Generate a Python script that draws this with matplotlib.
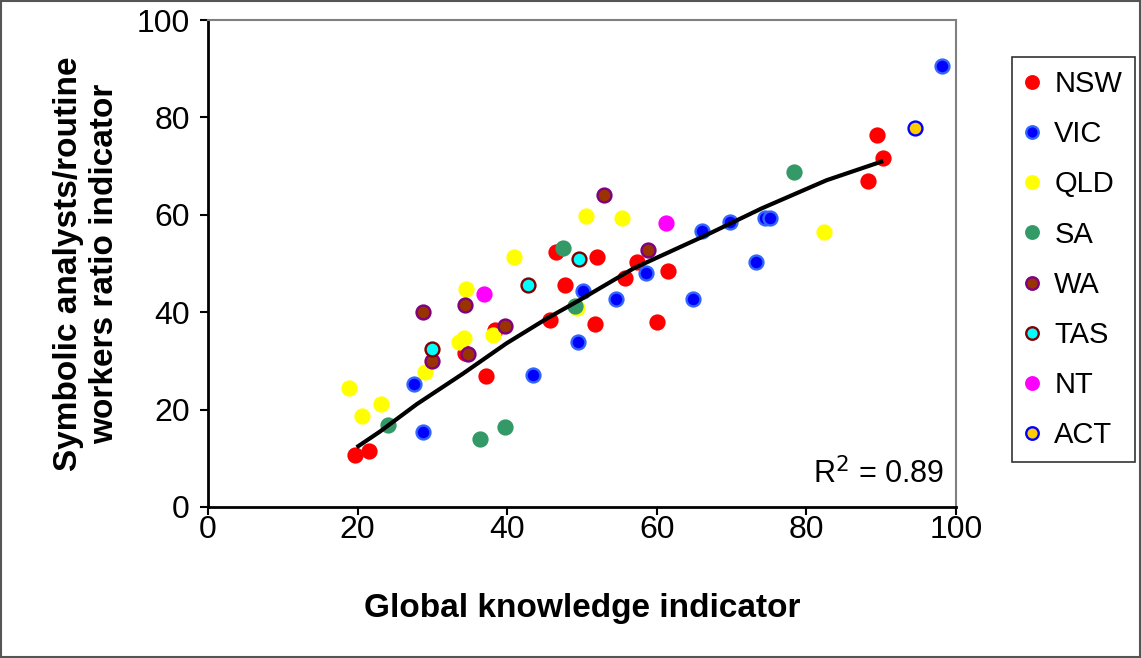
import numpy as np
import matplotlib
matplotlib.use("Agg")
import matplotlib.pyplot as plt
from matplotlib.patches import Rectangle

plt.rcParams['font.family'] = ['Liberation Sans', 'DejaVu Sans']

# state series: global knowledge (x) vs symbolic analysts/routine ratio (y)
nsw_x = [19.7, 21.5, 34.4, 37.2, 38.4, 45.7, 46.5, 47.7, 51.7, 52.0, 55.7, 57.3, 60.0, 61.5, 88.3, 89.5, 90.2]
nsw_y = [10.7, 11.6, 31.6, 26.8, 36.3, 38.3, 52.3, 45.6, 37.6, 51.3, 47.0, 50.4, 38.0, 48.5, 66.9, 76.3, 71.7]
vic_x = [27.5, 28.7, 43.4, 49.5, 50.2, 54.5, 58.5, 64.9, 66.0, 69.8, 73.3, 74.5, 75.1, 98.1]
vic_y = [25.3, 15.5, 27.2, 33.9, 44.3, 42.8, 48.0, 42.8, 56.6, 58.5, 50.4, 59.3, 59.3, 90.5]
qld_x = [18.9, 20.6, 23.1, 29.0, 33.6, 34.2, 34.5, 38.1, 40.9, 49.3, 50.5, 55.4, 82.4]
qld_y = [24.4, 18.7, 21.1, 27.7, 33.8, 34.8, 44.7, 35.3, 51.3, 40.8, 59.8, 59.3, 56.5]
sa_x = [24.0, 36.4, 39.7, 47.4, 49.0, 78.4]
sa_y = [16.9, 14.0, 16.4, 53.2, 41.3, 68.8]
wa_x = [28.7, 29.9, 34.4, 34.8, 39.7, 52.9, 58.8]
wa_y = [40.0, 30.0, 41.4, 31.4, 37.1, 64.1, 52.8]
tas_x = [29.9, 42.8, 49.6]
tas_y = [32.4, 45.6, 50.9]
nt_x = [36.9, 61.2]
nt_y = [43.8, 58.4]
act_x = [94.5]
act_y = [77.8]

# trend line
trend_x = [20.1, 23.0, 27.9, 34.1, 39.9, 45.3, 49.7, 56.9, 66.7, 74.0, 82.7, 90.0]
trend_y = [12.5, 15.5, 21.1, 27.4, 33.6, 38.7, 42.5, 49.0, 55.9, 61.3, 67.1, 70.9]

series = [
    ('NSW', nsw_x, nsw_y, '#FF0000', '#FF0000'),
    ('VIC', vic_x, vic_y, '#0000FF', '#3366FF'),
    ('QLD', qld_x, qld_y, '#FFFF00', '#FFFF00'),
    ('SA', sa_x, sa_y, '#339966', '#339966'),
    ('WA', wa_x, wa_y, '#993300', '#800080'),
    ('TAS', tas_x, tas_y, '#00FFFF', '#800000'),
    ('NT', nt_x, nt_y, '#FF00FF', '#FF00FF'),
    ('ACT', act_x, act_y, '#FFCC00', '#0000FF'),
]

fig = plt.figure(figsize=(11.41, 6.58), dpi=100)
ax = fig.add_axes([208/1141, 1 - 507/658, (956-208)/1141, (507-20)/658])

for name, xs, ys, fc, ec in series:
    ax.plot(xs, ys, 'o', ms=10, mfc=fc, mec=ec, mew=1.7, label=name, zorder=3)

ax.plot(trend_x, trend_y, color='black', lw=3, zorder=4)

ax.set_xlim(0, 100)
ax.set_ylim(0, 100)
ax.set_xticks(range(0, 101, 20))
ax.set_yticks(range(0, 101, 20))
ax.tick_params(direction='out', length=6, width=1.5, labelsize=23)
ax.tick_params(axis='x', pad=0)
ax.tick_params(axis='y', pad=7)
for s in ['left', 'bottom']:
    ax.spines[s].set_linewidth(2)
    ax.spines[s].set_color('black')
for s in ['top', 'right']:
    ax.spines[s].set_linewidth(1.5)
    ax.spines[s].set_color('#808080')

ax.set_xlabel('Global knowledge indicator', fontsize=24, fontweight='bold', labelpad=34)
ax.set_ylabel('Symbolic analysts/routine\nworkers ratio indicator', fontsize=24,
              fontweight='bold', labelpad=12, linespacing=1.2)

ax.text(0.985, 0.035, r'R$^2$ = 0.89', transform=ax.transAxes, ha='right', va='bottom',
        fontsize=22)

leg = fig.legend(loc='upper left', bbox_to_anchor=(1012/1141, 1 - 57/658), fontsize=21,
                 frameon=True, fancybox=False, edgecolor='black', handlelength=0.5,
                 handletextpad=0.5, labelspacing=0.76, borderpad=0.45, borderaxespad=0,
                 markerscale=0.9)
leg.get_frame().set_linewidth(1.2)

fig.patches.append(Rectangle((0.001, 0.001), 0.998, 0.997, transform=fig.transFigure,
                             fill=False, edgecolor='#555555', lw=1.5))

fig.savefig('out.png', dpi=100)
